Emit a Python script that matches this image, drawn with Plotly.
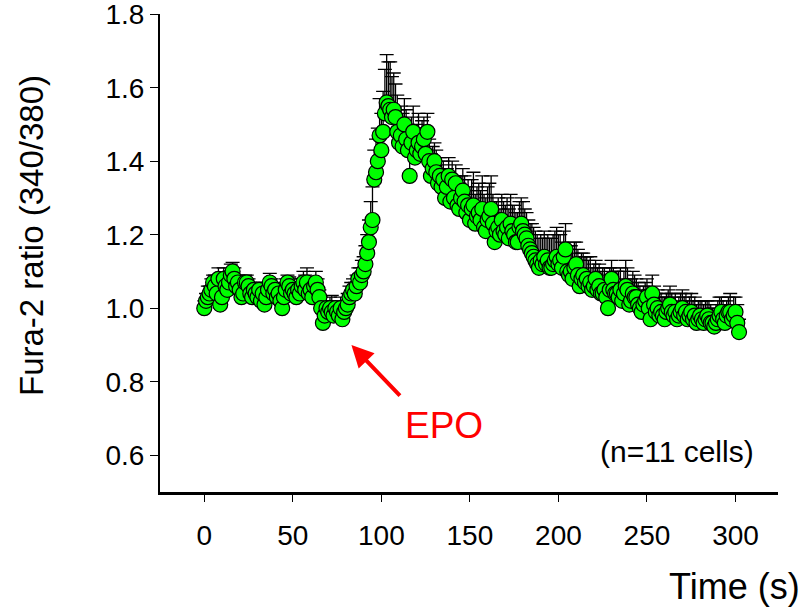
import plotly.graph_objects as go

# ---- data ----
time_s = [
    0, 1, 2, 3, 4, 5, 6, 7, 8, 9,
    10, 11, 12, 13, 14, 15, 16, 17, 18, 19,
    20, 21, 22, 23, 24, 25, 26, 27, 28, 29,
    30, 31, 32, 33, 34, 35, 36, 37, 38, 39,
    40, 41, 42, 43, 44, 45, 46, 47, 48, 49,
    50, 51, 52, 53, 54, 55, 56, 57, 58, 59,
    60, 61, 62, 63, 64, 65, 66, 67, 68, 69,
    70, 71, 72, 73, 74, 75, 76, 77, 78, 79,
    80, 81, 82, 83, 84, 85, 86, 87, 88, 89,
    90, 91, 92, 93, 94, 95, 96, 97, 98, 99,
    100, 101, 102, 103, 104, 105, 106, 107, 108, 109,
    110, 111, 112, 113, 114, 115, 116, 117, 118, 119,
    120, 121, 122, 123, 124, 125, 126, 127, 128, 129,
    130, 131, 132, 133, 134, 135, 136, 137, 138, 139,
    140, 141, 142, 143, 144, 145, 146, 147, 148, 149,
    150, 151, 152, 153, 154, 155, 156, 157, 158, 159,
    160, 161, 162, 163, 164, 165, 166, 167, 168, 169,
    170, 171, 172, 173, 174, 175, 176, 177, 178, 179,
    180, 181, 182, 183, 184, 185, 186, 187, 188, 189,
    190, 191, 192, 193, 194, 195, 196, 197, 198, 199,
    200, 201, 202, 203, 204, 205, 206, 207, 208, 209,
    210, 211, 212, 213, 214, 215, 216, 217, 218, 219,
    220, 221, 222, 223, 224, 225, 226, 227, 228, 229,
    230, 231, 232, 233, 234, 235, 236, 237, 238, 239,
    240, 241, 242, 243, 244, 245, 246, 247, 248, 249,
    250, 251, 252, 253, 254, 255, 256, 257, 258, 259,
    260, 261, 262, 263, 264, 265, 266, 267, 268, 269,
    270, 271, 272, 273, 274, 275, 276, 277, 278, 279,
    280, 281, 282, 283, 284, 285, 286, 287, 288, 289,
    290, 291, 292, 293, 294, 295, 296, 297, 298, 299,
    300, 301, 302,
]

ratio = [
    1.00, 1.02, 1.03, 1.04, 1.05, 1.07, 1.06, 1.04, 1.08, 1.01,
    1.03, 1.08, 1.06, 1.05, 1.07, 1.09, 1.10, 1.08, 1.06, 1.07,
    1.05, 1.03, 1.04, 1.07, 1.07, 1.06, 1.04, 1.03, 1.05, 1.04,
    1.03, 1.05, 1.02, 1.04, 1.01, 1.03, 1.05, 1.07, 1.06, 1.04,
    1.05, 1.03, 1.04, 1.02, 1.00, 1.03, 1.05, 1.07, 1.06, 1.04,
    1.05, 1.04, 1.03, 1.05, 1.04, 1.06, 1.07, 1.05, 1.07, 1.04,
    1.05, 1.03, 1.06, 1.07, 1.05, 1.03, 1.00, 0.96, 0.98, 1.00,
    0.99, 1.00, 0.99, 0.98, 1.00, 0.99, 0.98, 1.00, 0.97, 0.99,
    1.00, 1.01, 1.03, 1.04, 1.05, 1.04, 1.06, 1.08, 1.07, 1.09,
    1.10, 1.12, 1.15, 1.18, 1.22, 1.24, 1.35, 1.37, 1.40, 1.47,
    1.43, 1.48, 1.53, 1.56, 1.55, 1.54, 1.52, 1.54, 1.52, 1.48,
    1.45, 1.47, 1.44, 1.50, 1.46, 1.43, 1.36, 1.45, 1.48, 1.41,
    1.43, 1.45, 1.42, 1.44, 1.46, 1.42, 1.48, 1.40, 1.36, 1.38,
    1.40, 1.37, 1.34, 1.36, 1.33, 1.35, 1.30, 1.33, 1.36, 1.29,
    1.35, 1.30, 1.34, 1.28, 1.27, 1.30, 1.32, 1.29, 1.26, 1.28,
    1.24, 1.27, 1.28, 1.23, 1.25, 1.26, 1.24, 1.27, 1.22, 1.21,
    1.24, 1.25, 1.27, 1.23, 1.18, 1.21, 1.22, 1.20, 1.24, 1.21,
    1.20, 1.22, 1.19, 1.23, 1.21, 1.20, 1.18, 1.18, 1.22, 1.23,
    1.21, 1.20, 1.19, 1.17, 1.16, 1.15, 1.14, 1.13, 1.12, 1.11,
    1.13, 1.12, 1.14, 1.12, 1.13, 1.11, 1.11, 1.12, 1.13, 1.14,
    1.12, 1.13, 1.11, 1.14, 1.16, 1.10, 1.09, 1.10, 1.08, 1.11,
    1.12, 1.09, 1.06, 1.08, 1.09, 1.07, 1.08, 1.06, 1.07, 1.05,
    1.06, 1.08, 1.05, 1.06, 1.04, 1.04, 1.05, 1.03, 1.00, 1.05,
    1.08, 1.05, 1.04, 1.04, 1.03, 1.05, 1.02, 1.04, 1.06, 1.05,
    1.01, 1.02, 1.04, 1.03, 1.03, 1.01, 1.00, 0.99, 1.01, 1.02,
    1.03, 1.00, 0.97, 1.04, 1.01, 0.99, 1.00, 0.98, 0.99, 0.98,
    0.97, 0.99, 1.00, 1.01, 0.99, 0.98, 0.99, 0.97, 0.98, 0.99,
    1.00, 0.98, 0.99, 0.97, 0.98, 0.99, 0.97, 0.98, 0.96, 0.97,
    0.98, 0.97, 0.96, 0.97, 0.98, 0.97, 0.96, 0.96, 0.95, 0.96,
    0.97, 0.98, 0.99, 0.97, 0.96, 0.98, 0.99, 0.99, 0.97, 0.98,
    0.99, 0.96, 0.935,
]

sem = [
    .02, .02, .03, .02, .03, .02, .03, .02, .03, .02,
    .02, .03, .02, .02, .03, .03, .025, .03, .02, .02,
    .02, .02, .03, .02, .02, .02, .03, .02, .02, .02,
    .02, .02, .02, .03, .02, .02, .02, .025, .02, .02,
    .02, .03, .02, .02, .02, .02, .03, .02, .025, .02,
    .02, .02, .02, .03, .02, .02, .03, .04, .04, .02,
    .02, .02, .02, .03, .03, .02, .03, .03, .02, .02,
    .02, .03, .045, .02, .02, .02, .02, .03, .03, .02,
    .02, .03, .03, .03, .03, .03, .03, .03, .04, .04,
    .04, .05, .05, .06, .07, .09, .08, .09, .09, .10,
    .10, .11, .12, .13, .12, .13, .11, .10, .09, .10,
    .09, .08, .09, .07, .08, .07, .06, .07, .07, .08,
    .07, .08, .07, .07, .06, .07, .05, .06, .06, .06,
    .05, .06, .06, .05, .06, .05, .06, .05, .05, .06,
    .05, .06, .05, .07, .07, .06, .06, .07, .07, .07,
    .08, .08, .09, .08, .08, .08, .08, .09, .09, .09,
    .09, .09, .09, .08, .08, .08, .08, .07, .07, .08,
    .08, .08, .08, .08, .07, .08, .08, .08, .07, .07,
    .08, .07, .07, .07, .07, .08, .08, .08, .08, .08,
    .07, .07, .07, .07, .07, .08, .08, .08, .08, .08,
    .08, .07, .07, .07, .07, .07, .07, .07, .07, .07,
    .06, .07, .07, .07, .06, .07, .06, .07, .07, .06,
    .06, .05, .06, .06, .06, .07, .06, .06, .06, .06,
    .05, .06, .06, .06, .07, .06, .06, .06, .07, .06,
    .06, .06, .06, .06, .05, .06, .06, .06, .05, .05,
    .05, .05, .05, .05, .05, .05, .05, .05, .05, .05,
    .06, .05, .05, .05, .05, .05, .05, .05, .05, .05,
    .05, .05, .05, .05, .05, .05, .05, .05, .05, .05,
    .04, .05, .05, .05, .04, .05, .05, .04, .05, .05,
    .05, .05, .04, .05, .05, .04, .04, .05, .04, .05,
    .04, .05, .035,
]

x_ticks = [0, 50, 100, 150, 200, 250, 300]
y_ticks = [0.6, 0.8, 1.0, 1.2, 1.4, 1.6, 1.8]
y_tick_text = ["0.6", "0.8", "1.0", "1.2", "1.4", "1.6", "1.8"]

FONT = "Liberation Sans, Arial, sans-serif"

# plot-area geometry in pixels
L, R, T, B = 160, 27, 14, 119
PW, PH = 805 - L - R, 611 - T - B

fig = go.Figure()
fig.add_trace(go.Scatter(
    x=time_s, y=ratio, mode="markers",
    marker=dict(size=15, color="#00FF00", line=dict(color="black", width=1.2)),
    error_y=dict(type="data", symmetric=False, array=sem, arrayminus=[0] * len(sem),
                 color="black", thickness=1.3, width=7),
    showlegend=False, hoverinfo="skip",
))

fig.update_layout(
    width=805, height=611,
    margin=dict(l=L, r=R, t=T, b=B, autoexpand=False),
    paper_bgcolor="white", plot_bgcolor="white",
    font=dict(family=FONT, color="black"),
    xaxis=dict(range=[-25, 324], tickvals=x_ticks, ticktext=[str(v) for v in x_ticks],
               showline=True, linecolor="black", linewidth=3, ticks="outside",
               ticklen=7, tickwidth=1.3, tickcolor="black", showgrid=False, zeroline=False,
               tickfont=dict(size=28, family=FONT), ticklabelstandoff=9, automargin=False),
    yaxis=dict(range=[0.5, 1.8005], tickvals=y_ticks, ticktext=y_tick_text,
               showline=True, linecolor="black", linewidth=2, ticks="outside",
               ticklen=8, tickwidth=1.3, tickcolor="black", showgrid=False, zeroline=False,
               tickfont=dict(size=28, family=FONT), automargin=False,
               ticklabeloverflow="allow"),
)

# axis titles
fig.add_annotation(text="Fura-2 ratio (340/380)", xref="paper", yref="paper",
                   x=(31 - L) / PW, y=(611 - B - 236) / PH, textangle=-90,
                   xanchor="center", yanchor="middle", showarrow=False,
                   font=dict(size=33, family=FONT, color="black"))
fig.add_annotation(text="Time (s)", xref="paper", yref="paper",
                   x=(802 - L) / PW, y=(611 - B - 586) / PH,
                   xanchor="right", yanchor="middle", showarrow=False,
                   font=dict(size=36, family=FONT, color="black"))

# EPO arrow + label
fig.add_annotation(x=83.1, y=0.90, ax=111.3, ay=0.758, xref="x", yref="y",
                   axref="x", ayref="y", text="", showarrow=True,
                   arrowhead=2, arrowsize=1.1, arrowwidth=4, arrowcolor="#FF0000")
fig.add_annotation(text="EPO", x=135.6, y=0.68, xref="x", yref="y", showarrow=False,
                   font=dict(size=37, family=FONT, color="#FF0000"))
fig.add_annotation(text="(n=11 cells)", x=267, y=0.609, xref="x", yref="y", showarrow=False,
                   font=dict(size=30, family=FONT, color="black"))

fig.write_html(
    "out.html",
    config={"displayModeBar": False},
    post_script="document.body.style.margin='0';document.body.style.overflow='hidden';",
)
